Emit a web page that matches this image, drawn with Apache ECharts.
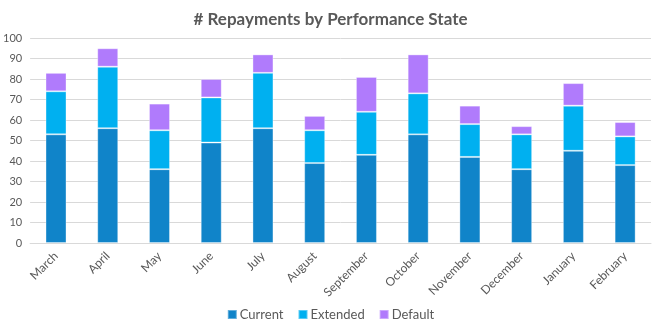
<!DOCTYPE html>
<html><head><meta charset="utf-8">
<script src="https://cdn.jsdelivr.net/npm/echarts@6/dist/echarts.min.js"></script>
<style>html,body{margin:0;padding:0;background:#fff}#c{width:661px;height:330px}</style>
</head><body><div id="c"></div>
<script>
const months = ["March","April","May","June","July","August","September","October","November","December","January","February"];
const current = [53,56,36,49,56,39,43,53,42,36,45,38];
const extended = [21,30,19,22,27,16,21,20,16,17,22,14];
const defaulted = [9,9,13,9,9,7,17,19,9,4,11,7];
const yTicks = [0,10,20,30,40,50,60,70,80,90,100];

const chart = echarts.init(document.getElementById('c'), null, {renderer:'canvas'});
const font = 'Lato, "Noto Sans", sans-serif';
function s(name, data, color){
  return {name, type:'bar', stack:'a', data, barWidth:21,
    itemStyle:{color, borderColor:'rgba(255,255,255,0.35)', borderWidth:1}};
}
chart.setOption({
  animation:false,
  title:{text:'# Repayments by Performance State', left:'center', top:6,
    textStyle:{fontFamily:font, fontSize:17, fontWeight:'bold', color:'#595959'}},
  grid:{left:30, right:10, top:38, bottom:87},
  legend:{bottom:4, left:'center', itemWidth:9, itemHeight:9, itemGap:14, icon:'rect',
    textStyle:{fontFamily:font, fontSize:13, color:'#595959', padding:[0,0,0,-2]}},
  xAxis:{type:'category', data:months,
    axisLine:{lineStyle:{color:'#D9D9D9'}}, axisTick:{show:false},
    axisLabel:{rotate:45, interval:0, color:'#595959', fontFamily:font, fontSize:12, margin:11}},
  yAxis:{type:'value', min:yTicks[0], max:yTicks[yTicks.length-1], interval:10,
    axisLine:{show:false}, axisTick:{show:false},
    splitLine:{lineStyle:{color:'#D9D9D9'}},
    axisLabel:{color:'#595959', fontFamily:font, fontSize:11, margin:8}},
  series:[s('Current',current,'#1084C9'), s('Extended',extended,'#00B0F0'), s('Default',defaulted,'#B07BFC')]
});
</script></body></html>
